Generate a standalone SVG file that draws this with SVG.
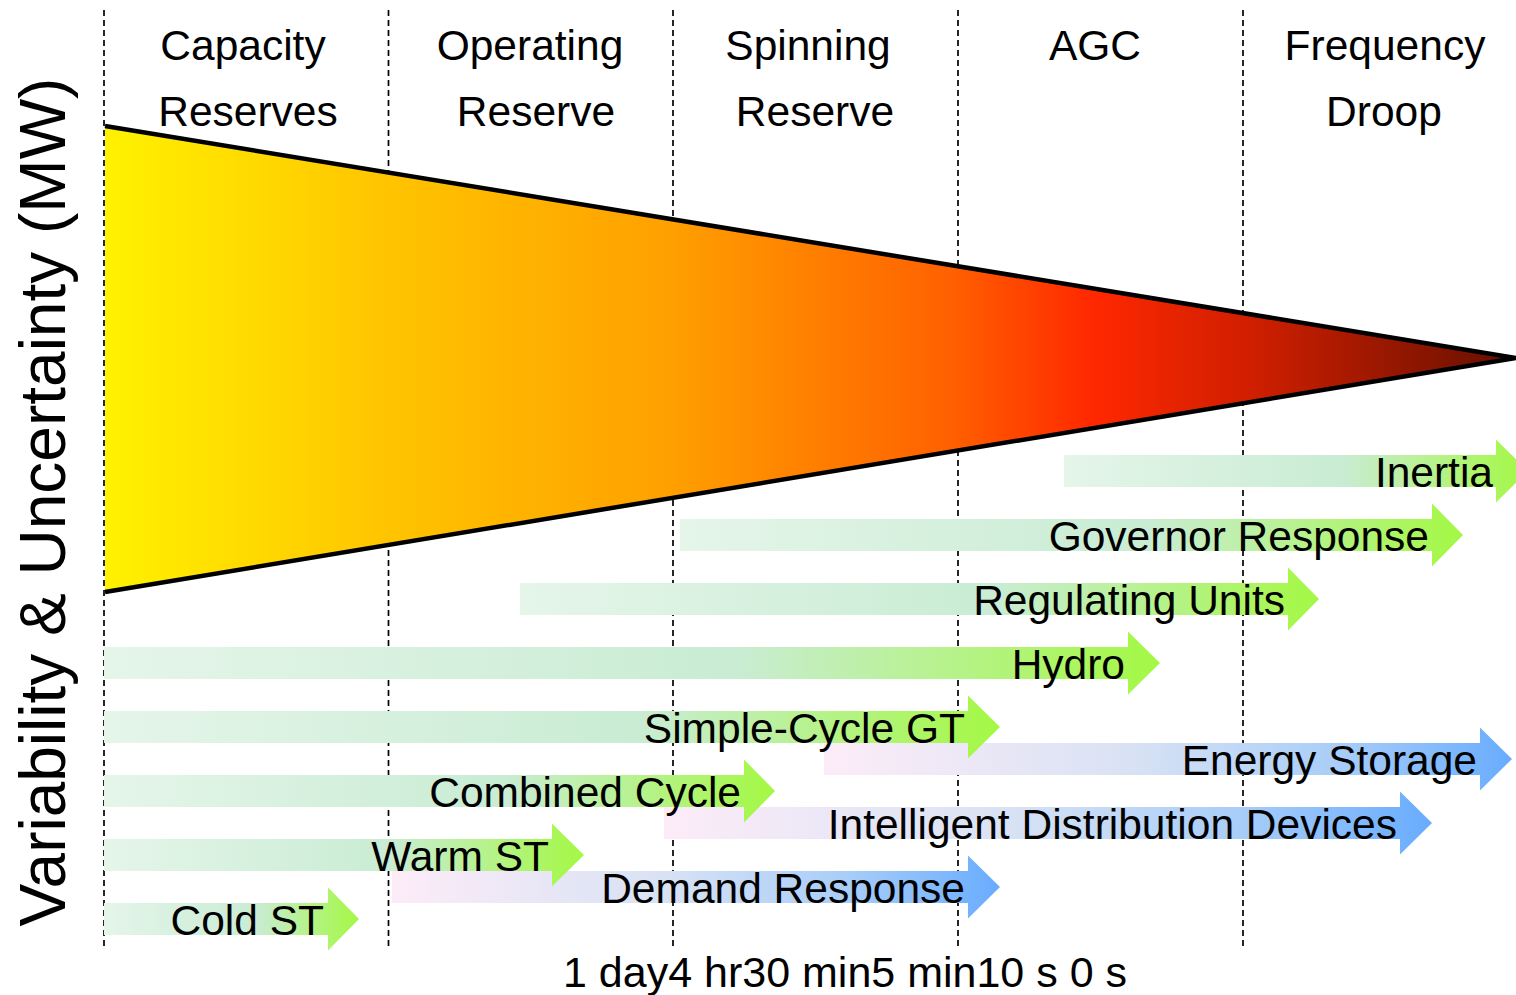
<svg xmlns="http://www.w3.org/2000/svg" width="1516" height="995" viewBox="0 0 1516 995">
<style>
text{font-family:"Liberation Sans",Arial,sans-serif;fill:#000}
.hdr{font-size:42.5px;text-anchor:middle}
.lbl{font-size:42.5px;text-anchor:end}
.grid{stroke:#000;stroke-width:1.7;stroke-dasharray:6 4;fill:none}
.g{fill:url(#gGreen)}
.b{fill:url(#gBlue)}
</style>
<defs>
<linearGradient id="gTri" x1="104" y1="0" x2="1516" y2="0" gradientUnits="userSpaceOnUse">
<stop offset="0" stop-color="#fff200"/>
<stop offset="0.2" stop-color="#ffc400"/>
<stop offset="0.4" stop-color="#ffa000"/>
<stop offset="0.6" stop-color="#ff6000"/>
<stop offset="0.7" stop-color="#ff2800"/>
<stop offset="0.82" stop-color="#cc1e00"/>
<stop offset="1" stop-color="#631000"/>
</linearGradient>
<linearGradient id="gGreen" x1="0" y1="0" x2="1" y2="0">
<stop offset="0" stop-color="#e5f5ea"/>
<stop offset="0.6" stop-color="#c9ecd3"/>
<stop offset="1" stop-color="#a4f844"/>
</linearGradient>
<linearGradient id="gBlue" x1="0" y1="0" x2="1" y2="0">
<stop offset="0" stop-color="#fdecf8"/>
<stop offset="0.45" stop-color="#d8e2f4"/>
<stop offset="0.75" stop-color="#a8cdf8"/>
<stop offset="1" stop-color="#68acfe"/>
</linearGradient>
</defs>
<rect width="1516" height="995" fill="#fff"/>
<g id="grid">
<line class="grid" x1="104" y1="10" x2="104" y2="948"/>
<line class="grid" x1="388.5" y1="10" x2="388.5" y2="948"/>
<line class="grid" x1="673" y1="10" x2="673" y2="948"/>
<line class="grid" x1="958" y1="10" x2="958" y2="948"/>
<line class="grid" x1="1243" y1="10" x2="1243" y2="948"/>
</g>
<g id="headers">
<text class="hdr" x="243" y="60">Capacity</text>
<text class="hdr" x="248" y="126">Reserves</text>
<text class="hdr" x="530" y="60">Operating</text>
<text class="hdr" x="536" y="126">Reserve</text>
<text class="hdr" x="808" y="60">Spinning</text>
<text class="hdr" x="815" y="126">Reserve</text>
<text class="hdr" x="1095" y="60">AGC</text>
<text class="hdr" x="1385" y="60">Frequency</text>
<text class="hdr" x="1384" y="126">Droop</text>
</g>
<g id="triangle">
<polygon points="105,126 1516,358 105,592" fill="url(#gTri)"/>
<polyline points="105,126 1516,358 105,592" fill="none" stroke="#000" stroke-width="4.5" stroke-linejoin="miter"/>
</g>
<g id="connectors">
<g id="energy-storage"><path class="b" d="M824,743H1480V727.5L1512,759L1480,790.5V775H824Z"/></g>
<g id="intelligent-distribution"><path class="b" d="M664,807H1400V791.5L1432,823L1400,854.5V839H664Z"/></g>
<g id="demand-response"><path class="b" d="M392,871H968V855.5L1000,887L968,918.5V903H392Z"/></g>
<g id="inertia"><path class="g" d="M1064,455H1496V439.5L1528,471L1496,502.5V487H1064Z"/></g>
<g id="governor"><path class="g" d="M680,519H1432V503.5L1463,535L1432,566.5V551H680Z"/></g>
<g id="regulating"><path class="g" d="M520,583H1288V567.5L1319,599L1288,630.5V615H520Z"/></g>
<g id="hydro"><path class="g" d="M104,647H1128V631.5L1160,663L1128,694.5V679H104Z"/></g>
<g id="simple-cycle"><path class="g" d="M104,711H968V695.5L1000,727L968,758.5V743H104Z"/></g>
<g id="combined-cycle"><path class="g" d="M104,775H744V759.5L775,791L744,822.5V807H104Z"/></g>
<g id="warm-st"><path class="g" d="M104,839H552V823.5L584,855L552,886.5V871H104Z"/></g>
<g id="cold-st"><path class="g" d="M104,903H328V887.5L359,919L328,950.5V935H104Z"/></g>
</g>
<g id="labels">
<text class="lbl" x="1493" y="487">Inertia</text>
<text class="lbl" x="1429" y="551">Governor Response</text>
<text class="lbl" x="1285" y="615">Regulating Units</text>
<text class="lbl" x="1125" y="679">Hydro</text>
<text class="lbl" x="965" y="743">Simple-Cycle GT</text>
<text class="lbl" x="741" y="807">Combined Cycle</text>
<text class="lbl" x="549" y="871">Warm ST</text>
<text class="lbl" x="324" y="935">Cold ST</text>
<text class="lbl" x="1477" y="775">Energy Storage</text>
<text class="lbl" x="1397" y="839">Intelligent Distribution Devices</text>
<text class="lbl" x="965" y="903">Demand Response</text>
</g>
<g id="axes">
<text x="845" y="987" font-size="43" text-anchor="middle">1 day4 hr30 min5 min10 s 0 s</text>
<text transform="translate(65,502) rotate(-90)" font-size="64" text-anchor="middle">Variability &amp; Uncertainty (MW)</text>
</g>
</svg>
